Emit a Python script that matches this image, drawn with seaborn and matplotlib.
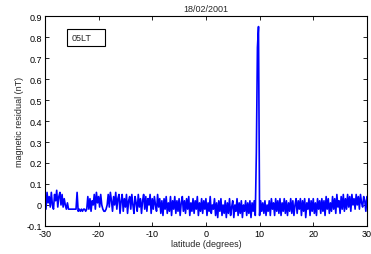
import numpy as np
import pandas as pd
import matplotlib
matplotlib.use("Agg")
import matplotlib.pyplot as plt
from matplotlib.patches import Rectangle
import seaborn as sns

title = "18/02/2001"
label_box = "05LT"
xlabel = "latitude (degrees)"
ylabel = "magnetic residual (nT)"
xticks = [-30, -20, -10, 0, 10, 20, 30]
yticks = [-0.1, 0, 0.1, 0.2, 0.3, 0.4, 0.5, 0.6, 0.7, 0.8, 0.9]
ytick_labels = ["-0.1", "0", "0.1", "0.2", "0.3", "0.4", "0.5", "0.6", "0.7", "0.8", "0.9"]

lat_start, lat_end = -30.0, 30.0
residual = [
    0.05, -0.02, 0.06, 0.01, 0.04, -0.01, 0.06, 0.00, -0.02, 0.05,
    0.02, 0.07, -0.01, 0.04, 0.06, 0.00, 0.05, -0.01, 0.03, 0.00,
    -0.02, 0.01, -0.02, -0.02, -0.02, -0.02, -0.02, -0.02, -0.02, -0.02,
    0.06, -0.03, -0.02, -0.03, -0.02, -0.03, -0.02, -0.02, -0.03, -0.02,
    0.04, -0.02, 0.03, -0.03, 0.02, 0.00, 0.05, -0.02, 0.06, 0.01,
    0.04, -0.01, 0.05, 0.00, -0.02, -0.03, -0.03, -0.02, 0.00, 0.05,
    -0.01, 0.06, 0.02, -0.03, 0.04, 0.00, 0.06, -0.02, 0.03, 0.05,
    -0.04, 0.02, 0.05, -0.03, 0.03, -0.01, 0.05, -0.04, 0.02, 0.04,
    -0.02, 0.05, 0.00, -0.04, 0.04, 0.01, -0.03, 0.05, -0.01, 0.03,
    -0.04, 0.02, 0.05, -0.02, 0.04, -0.03, 0.03, 0.00, 0.05, -0.04,
    0.03, -0.02, 0.04, 0.00, -0.03, 0.05, -0.01, 0.03, -0.04, 0.02,
    -0.05, 0.03, -0.02, 0.04, -0.04, 0.01, -0.03, 0.04, -0.05, 0.02,
    -0.02, 0.04, -0.04, 0.02, -0.03, 0.03, -0.05, 0.01, 0.04, -0.03,
    0.02, -0.04, 0.03, -0.02, 0.04, -0.05, 0.01, -0.03, 0.03, -0.04,
    0.02, -0.02, 0.04, -0.05, 0.01, -0.03, 0.03, -0.04, 0.02, -0.02,
    0.03, -0.05, 0.01, -0.03, 0.04, -0.04, 0.00, -0.02, 0.03, -0.05,
    0.01, -0.06, 0.02, -0.03, 0.03, -0.05, 0.00, -0.04, 0.02, -0.06,
    0.01, -0.04, 0.03, -0.05, -0.01, 0.02, -0.06, 0.00, -0.03, 0.03,
    -0.05, 0.01, -0.04, 0.02, -0.06, 0.00, -0.03, 0.02, -0.05, 0.01,
    -0.04, 0.02, -0.06, 0.01, -0.03, 0.02, -0.05, 0.25, 0.75, 0.85,
    -0.05, 0.02, -0.03, 0.01, -0.04, 0.02, -0.05, 0.00, -0.03, 0.02,
    -0.05, 0.03, -0.02, 0.01, -0.05, 0.03, -0.03, 0.02, -0.04, 0.03,
    -0.05, 0.01, -0.03, 0.03, -0.04, 0.02, -0.05, 0.01, -0.03, 0.03,
    -0.04, 0.02, -0.05, 0.00, 0.03, -0.04, 0.02, -0.02, 0.03, -0.05,
    0.02, -0.03, 0.03, -0.06, 0.01, -0.02, 0.03, -0.05, 0.02, -0.03,
    0.03, -0.04, 0.01, -0.05, 0.03, -0.02, 0.02, -0.04, 0.03, -0.03,
    0.02, -0.05, 0.04, -0.02, 0.03, -0.04, 0.01, -0.03, 0.04, -0.02,
    0.03, -0.04, 0.05, -0.01, 0.02, -0.04, 0.04, -0.02, 0.05, -0.03,
    0.03, -0.02, 0.05, -0.01, 0.04, -0.03, 0.05, 0.00, 0.03, -0.02,
    0.05, 0.00, 0.04, -0.02, 0.05, 0.01, -0.01, 0.04, 0.02, -0.03,
    0.04,
]
latitude = np.linspace(lat_start, lat_end, len(residual))
df = pd.DataFrame({"lat": latitude, "res": residual})

sns.set_style("white")
plt.rcParams["font.family"] = ["Liberation Sans", "DejaVu Sans"]

fig = plt.figure(figsize=(3.71, 2.55), dpi=100)
ax = fig.add_axes([0.121, 0.110, 0.868, 0.823])
sns.lineplot(data=df, x="lat", y="res", ax=ax, color="#0000ff",
             linewidth=1.2, estimator=None, sort=False)

ax.set_xlim(-30, 30)
ax.set_ylim(-0.1, 0.9)
ax.set_xticks(xticks)
ax.set_xticklabels([str(t) for t in xticks], fontsize=6.5)
ax.set_yticks(yticks)
ax.set_yticklabels(ytick_labels, fontsize=6.5)
ax.tick_params(direction="in", length=3, width=0.6, top=True, right=True,
               bottom=True, left=True, pad=2, colors="black")
for s in ax.spines.values():
    s.set_visible(True)
    s.set_color("black")
    s.set_linewidth(0.8)
ax.set_xlabel(xlabel, fontsize=6.5, labelpad=1)
ax.set_ylabel(ylabel, fontsize=6.5, labelpad=2)
ax.set_title(title, fontsize=6.5, pad=4)
ax.add_patch(Rectangle((0.068, 0.857), 0.118, 0.081, transform=ax.transAxes,
                       fc="white", ec="black", lw=0.8, zorder=5))
ax.text(0.084, 0.898, label_box, transform=ax.transAxes, fontsize=6.5,
        ha="left", va="center", zorder=6)

fig.savefig("out.png", dpi=100)
